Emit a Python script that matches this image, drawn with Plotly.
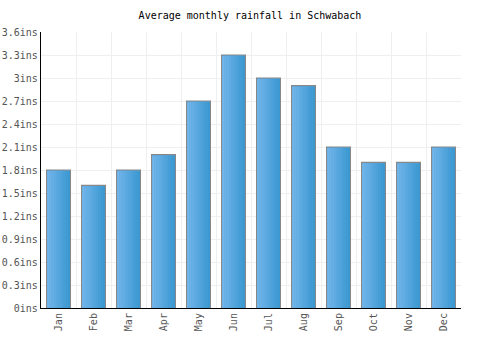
import plotly.graph_objects as go

months = ["Jan", "Feb", "Mar", "Apr", "May", "Jun", "Jul", "Aug", "Sep", "Oct", "Nov", "Dec"]
rainfall = [1.8, 1.6, 1.8, 2.0, 2.7, 3.3, 3.0, 2.9, 2.1, 1.9, 1.9, 2.1]
ytick_vals = [0, 0.3, 0.6, 0.9, 1.2, 1.5, 1.8, 2.1, 2.4, 2.7, 3.0, 3.3, 3.6]
ytick_text = ["0ins", "0.3ins", "0.6ins", "0.9ins", "1.2ins", "1.5ins", "1.8ins",
              "2.1ins", "2.4ins", "2.7ins", "3ins", "3.3ins", "3.6ins"]
title = "Average monthly rainfall in Schwabach"

FONT = "DejaVu Sans Mono"
bar_w = 0.68

fig = go.Figure()
# base bar with outline
fig.add_trace(go.Bar(x=months, y=rainfall, width=bar_w,
                     marker=dict(color="#55a5de", line=dict(color="#888888", width=1.2)),
                     hoverinfo="skip"))
# gradient strips (light left -> darker right)
n = 10
c0 = (0x72, 0xb5, 0xea)
c1 = (0x3b, 0x98, 0xd0)
inner = bar_w - 0.03
sw = inner / n
for i in range(n):
    t = i / (n - 1)
    col = "rgb(%d,%d,%d)" % tuple(round(c0[k] + (c1[k] - c0[k]) * t) for k in range(3))
    fig.add_trace(go.Bar(x=months, y=[v - 0.012 for v in rainfall], width=sw * 1.02,
                         offset=-inner / 2 + i * sw,
                         marker=dict(color=col, line=dict(width=0)),
                         hoverinfo="skip"))

fig.update_layout(
    width=500, height=350,
    margin=dict(l=41, r=39, t=32, b=42),
    barmode="overlay",
    showlegend=False,
    plot_bgcolor="white", paper_bgcolor="white",
    title=dict(text=title, x=0.5, xanchor="center", y=0.955, yanchor="middle",
               font=dict(family=FONT, size=10, color="#000000")),
    font=dict(family=FONT, size=10, color="#555555"),
)
fig.update_xaxes(tickson="boundaries", showgrid=True, gridcolor="#efefef", gridwidth=1,
                 showline=True, linecolor="#000000", linewidth=1.2,
                 tickangle=-90, ticks="", ticklen=0, automargin=False,
                 tickfont=dict(family=FONT, size=10, color="#555555"))
fig.update_yaxes(range=[0, 3.6], tickvals=ytick_vals, ticktext=ytick_text,
                 showgrid=True, gridcolor="#efefef", gridwidth=1,
                 showline=True, linecolor="#000000", linewidth=1.2,
                 ticks="", zeroline=False, automargin=False,
                 tickfont=dict(family=FONT, size=10, color="#555555"))

fig.write_html("out.html")
